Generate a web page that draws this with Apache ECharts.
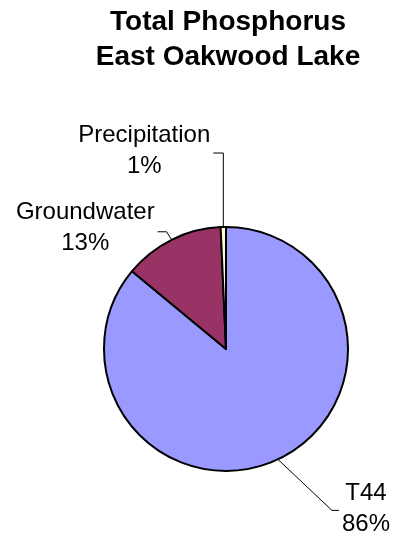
<!DOCTYPE html>
<html>
<head>
<meta charset="utf-8">
<script src="https://cdn.jsdelivr.net/npm/echarts@6/dist/echarts.min.js"></script>
<style>
html,body{margin:0;padding:0;background:#fff;}
#chart{width:393px;height:536px;}
</style>
</head>
<body>
<div id="chart"></div>
<script>
// Data
var titleLines = ['Total Phosphorus', 'East Oakwood Lake'];
var categories = ['T44', 'Groundwater', 'Precipitation'];
var values = [86.0, 13.3, 0.7];
var colors = ['#9999FF', '#993366', '#FFFFCC'];

// Leader-line layout: bend offset from slice anchor, horizontal tail, label vertical shift
var leader = [
  { bx: 54, by: 51, h: 7, ly: -2 },
  { bx: -5, by: -8, h: -9, ly: -4 },
  { bx: 0, by: -74, h: -10, ly: -2 }
];

var FONT = '"Liberation Sans", Arial, Helvetica, sans-serif';
var chart = echarts.init(document.getElementById('chart'), null, { renderer: 'canvas' });

var data = categories.map(function (c, i) {
  return { name: c, value: values[i], itemStyle: { color: colors[i] } };
});

chart.setOption({
  animation: false,
  backgroundColor: '#ffffff',
  graphic: [{
    type: 'text',
    x: 228,
    y: 5,
    style: {
      text: titleLines.join('\n'),
      align: 'center',
      verticalAlign: 'top',
      font: 'bold 28px ' + FONT,
      lineHeight: 35,
      fill: '#000'
    }
  }],
  series: [{
    type: 'pie',
    center: [226, 349],
    radius: 122,
    startAngle: 90,
    clockwise: true,
    avoidLabelOverlap: false,
    silent: true,
    data: data,
    itemStyle: { borderColor: '#000', borderWidth: 2 },
    label: {
      show: true,
      position: 'outside',
      color: '#000',
      fontFamily: FONT,
      fontSize: 24,
      lineHeight: 31,
      align: 'center',
      formatter: function (p) { return p.name + '\n' + Math.round(p.percent) + '%'; }
    },
    labelLine: {
      show: true,
      length: 20,
      length2: 10,
      smooth: false,
      lineStyle: { color: '#000', width: 1 }
    },
    labelLayout: function (p) {
      var pts = p.labelLinePoints;
      if (!pts) return {};
      var cfg = leader[p.dataIndex];
      var a = pts[0];
      var bend = [a[0] + cfg.bx, a[1] + cfg.by];
      var end = [bend[0] + cfg.h, bend[1]];
      var w = p.labelRect.width;
      var gap = 3;
      var cx = cfg.h > 0 ? end[0] + gap + w / 2 : end[0] - gap - w / 2;
      return {
        x: cx,
        y: end[1] + cfg.ly,
        align: 'center',
        verticalAlign: 'middle',
        labelLinePoints: [a, bend, end]
      };
    }
  }]
});
</script>
</body>
</html>
